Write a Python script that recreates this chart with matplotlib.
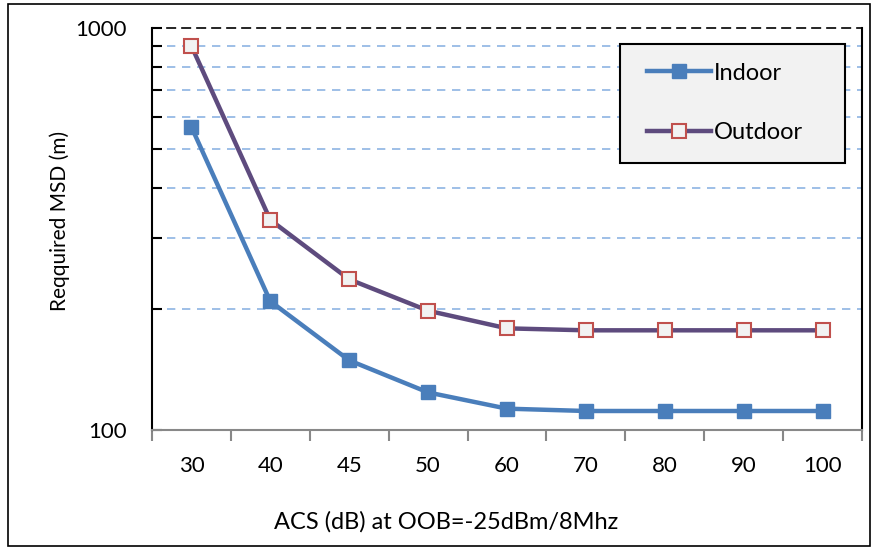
import matplotlib.pyplot as plt
from matplotlib.ticker import FixedLocator, NullFormatter

plt.rcParams['font.family'] = ['Lato', 'DejaVu Sans']

# ACS values (dB) and required MSD (m)
acs = ['30', '40', '45', '50', '60', '70', '80', '90', '100']
indoor = [567, 209, 149, 124, 113, 111.5, 111.5, 111.5, 111.5]
outdoor = [902, 333, 237, 198, 179, 177, 177, 177, 177]

W, H = 872, 548
fig = plt.figure(figsize=(W / 100, H / 100), dpi=100)
ax = fig.add_axes([152 / W, 1 - 430 / H, 710 / W, 402 / H])

x = range(len(acs))
ax.plot(x, indoor, color='#4a7ebb', lw=3.2, marker='s', ms=10,
        mfc='#4a7ebb', mec='#4a7ebb', label='Indoor', zorder=3)
ax.plot(x, outdoor, color='#5e4b7e', lw=3.2, marker='s', ms=10,
        mfc='#f2f2f2', mec='#c0504d', mew=1.5, label='Outdoor', zorder=3)

ax.set_yscale('log')
ax.set_ylim(100, 1000)
ax.set_xlim(-0.5, len(acs) - 0.5)
ax.yaxis.set_major_locator(FixedLocator([100, 1000]))
ax.set_yticklabels(['100', '1000'])
ax.yaxis.set_minor_locator(FixedLocator(range(200, 1000, 100)))
ax.yaxis.set_minor_formatter(NullFormatter())
for v in range(200, 1000, 100):
    ax.axhline(v, color='#8eb4e3', lw=1.2, ls=(0, (5, 4)), zorder=1)

ax.set_xticks(x)
ax.set_xticklabels(acs)
ax.set_xticks([i - 0.5 for i in range(len(acs) + 1)], minor=True)
ax.tick_params(axis='x', which='major', length=0, labelsize=16, pad=19)
ax.tick_params(axis='x', which='minor', length=8, width=1.5, color='#888888')
ax.tick_params(axis='y', which='both', direction='in', length=7, width=1.5,
               labelsize=16, pad=18)

ax.spines['left'].set_linewidth(1.5)
ax.spines['right'].set_linewidth(1.5)
ax.spines['bottom'].set_color('#888888')
ax.spines['bottom'].set_linewidth(1.5)
ax.spines['top'].set_linestyle((0, (5, 4)))
ax.spines['top'].set_linewidth(1.2)

fig.text(446 / W, 1 - 522 / H, 'ACS (dB) at OOB=-25dBm/8Mhz', fontsize=17,
         ha='center', va='center')
ax.set_ylabel('Reqquired MSD (m)', fontsize=15, labelpad=6)
ax.yaxis.set_label_coords(-0.115, 0.52)

# legend box drawn separately so its size can be set directly
box = plt.Rectangle((620 / W, 1 - 163 / H), 225 / W, 119 / H,
                    transform=fig.transFigure, facecolor='#f2f2f2',
                    edgecolor='black', lw=1.5, zorder=4, clip_on=False)
ax.add_artist(box)
leg = ax.legend(loc='center left', bbox_to_anchor=(647 / W, 1 - 103 / H),
                bbox_transform=fig.transFigure, fontsize=17, frameon=False,
                labelspacing=1.65, handlelength=2.7, handletextpad=0.15,
                borderpad=0, borderaxespad=0)
leg.set_zorder(5)

# outer border around the whole chart
fig.patches.append(plt.Rectangle((8 / W, 2 / H), 862 / W, 542 / H,
                                 transform=fig.transFigure, fill=False,
                                 edgecolor='black', lw=1.2))

fig.savefig('out.png', dpi=100)
